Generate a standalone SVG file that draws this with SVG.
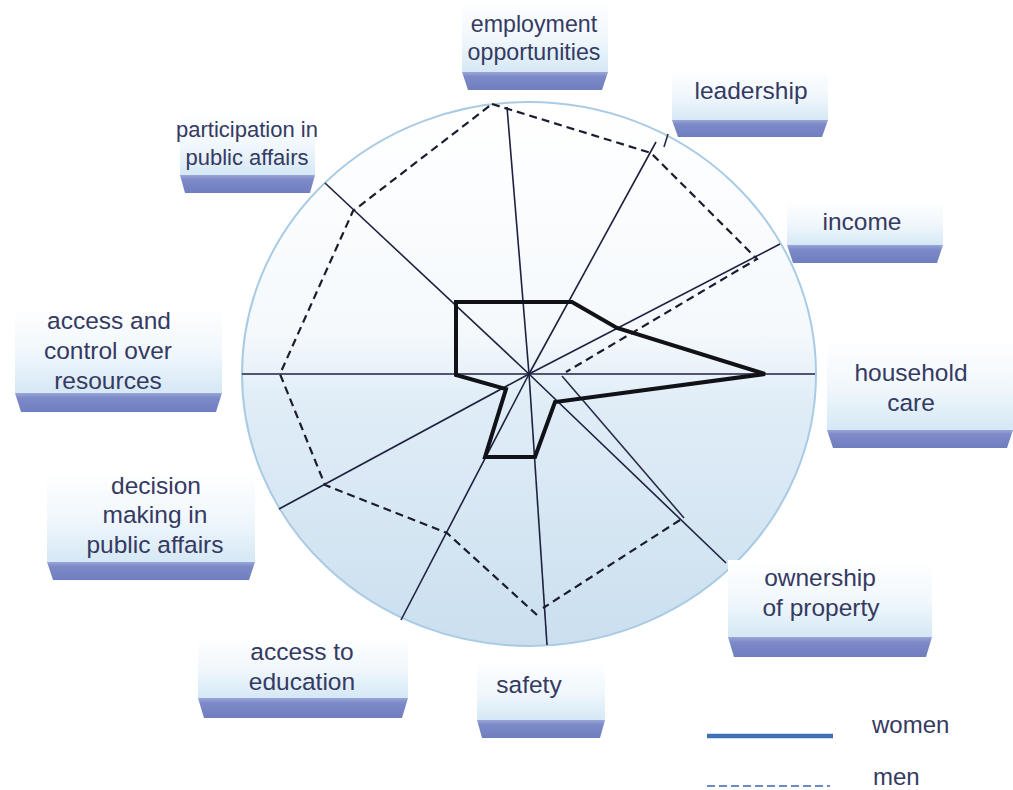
<svg xmlns="http://www.w3.org/2000/svg" width="1013" height="790" viewBox="0 0 1013 790">
<defs>
<linearGradient id="disc" x1="0" y1="0" x2="0" y2="1">
<stop offset="0" stop-color="#ffffff"/>
<stop offset="0.42" stop-color="#f5f9fc"/>
<stop offset="0.55" stop-color="#e0edf7"/>
<stop offset="1" stop-color="#cbdfef"/>
</linearGradient>
<linearGradient id="boxbg" x1="0" y1="0" x2="0" y2="1">
<stop offset="0" stop-color="#ffffff"/>
<stop offset="0.55" stop-color="#f0f7fc"/>
<stop offset="1" stop-color="#d5e8f5"/>
</linearGradient>
<linearGradient id="band" x1="0" y1="0" x2="0" y2="1">
<stop offset="0" stop-color="#9aa6d8"/>
<stop offset="0.25" stop-color="#7d8ac8"/>
<stop offset="1" stop-color="#6f7ebf"/>
</linearGradient>
</defs>
<style>
.lbl{font-family:"Liberation Sans",Arial,sans-serif;font-size:24.5px;fill:#353a62;text-anchor:middle}
.box{fill:url(#boxbg)}
.band{fill:url(#band)}
.spoke{stroke:#1f2140;stroke-width:1.6;fill:none}
.men{stroke:#1b1c30;stroke-width:2.2;stroke-dasharray:8 5;fill:none}
.menSolid{stroke:#2a2c48;stroke-width:1.6;fill:none}
.women{stroke:#111118;stroke-width:4;fill:none;stroke-linejoin:miter}
</style>
<rect width="1013" height="790" fill="#ffffff"/>
<g id="disc-bg">
<ellipse cx="529" cy="374" rx="287" ry="272" fill="url(#disc)" stroke="#aacbe4" stroke-width="2"/>
</g>
<g id="connectors">
<g id="spokes">
<line class="spoke" x1="529" y1="374" x2="507" y2="107"/>
<line class="spoke" x1="529" y1="374" x2="656" y2="142"/>
<line class="spoke" x1="529" y1="374" x2="780" y2="244"/>
<line class="spoke" x1="529" y1="374" x2="815" y2="374"/>
<line class="spoke" x1="529" y1="374" x2="726" y2="563"/>
<line class="spoke" x1="529" y1="374" x2="547" y2="645"/>
<line class="spoke" x1="529" y1="374" x2="401" y2="620"/>
<line class="spoke" x1="529" y1="374" x2="279" y2="509"/>
<line class="spoke" x1="529" y1="374" x2="242" y2="374"/>
<line class="spoke" x1="529" y1="374" x2="325" y2="183"/>
</g>
<g id="men-series">
<path class="men" d="M492,104 L651,153 L757,259 L566,372"/>
<path class="menSolid" d="M562,376 L684,518"/>
<path class="men" d="M680,520 L543,608"/>
<path class="men" d="M537,615 L447,533 L325,485 L280,374 L353,211 L492,104"/>
<path class="menSolid" d="M664,147 L668,134"/>
</g>
<g id="women-series">
<path class="women" d="M456,302 L572,302 L617,328 L765,374 L555,402 L535,457 L485,457 L506,389 L456,375 Z"/>
</g>
</g>
<g id="label-employment">
<rect class="box" x="462" y="0" width="146" height="72"/>
<polygon class="band" points="462,72 608,72 602,90 468,90"/>
<text class="lbl" x="534" y="32" style="font-size:23.2px">employment</text>
<text class="lbl" x="534" y="60" style="font-size:23.2px">opportunities</text>
</g>
<g id="label-leadership">
<rect class="box" x="672" y="68" width="156" height="52"/>
<polygon class="band" points="672,120 828,120 822,137 678,137"/>
<text class="lbl" x="751" y="99">leadership</text>
</g>
<g id="label-income">
<rect class="box" x="787" y="200" width="156" height="45"/>
<polygon class="band" points="787,245 943,245 937,263 793,263"/>
<text class="lbl" x="862" y="230">income</text>
</g>
<g id="label-household">
<rect class="box" x="827" y="338" width="186" height="92"/>
<polygon class="band" points="827,430 1013,430 1007,448 833,448"/>
<text class="lbl" x="911" y="381">household</text>
<text class="lbl" x="911" y="411">care</text>
</g>
<g id="label-ownership">
<rect class="box" x="728" y="560" width="204" height="77"/>
<polygon class="band" points="728,637 932,637 926,657 734,657"/>
<text class="lbl" x="820" y="586">ownership</text>
<text class="lbl" x="821" y="616">of property</text>
</g>
<g id="label-safety">
<rect class="box" x="477" y="660" width="128" height="60"/>
<polygon class="band" points="477,720 605,720 600,738 482,738"/>
<text class="lbl" x="529" y="693">safety</text>
</g>
<g id="label-education">
<rect class="box" x="198" y="636" width="210" height="62"/>
<polygon class="band" points="198,698 408,698 402,718 204,718"/>
<text class="lbl" x="302" y="660">access to</text>
<text class="lbl" x="302" y="690">education</text>
</g>
<g id="label-decision">
<rect class="box" x="47" y="470" width="208" height="92"/>
<polygon class="band" points="47,562 255,562 249,580 53,580"/>
<text class="lbl" x="156" y="494">decision</text>
<text class="lbl" x="155" y="523">making in</text>
<text class="lbl" x="155" y="553">public affairs</text>
</g>
<g id="label-resources">
<rect class="box" x="15" y="305" width="207" height="88"/>
<polygon class="band" points="15,393 222,393 216,412 21,412"/>
<text class="lbl" x="109" y="329">access and</text>
<text class="lbl" x="108" y="359">control over</text>
<text class="lbl" x="108" y="389">resources</text>
</g>
<g id="label-participation">
<rect class="box" x="180" y="112" width="135" height="63"/>
<polygon class="band" points="180,175 315,175 310,193 185,193"/>
<text class="lbl" x="247" y="137" style="font-size:22px">participation in</text>
<text class="lbl" x="247" y="165" style="font-size:22px">public affairs</text>
</g>
<g id="legend">
<line x1="707" y1="736" x2="833" y2="736" stroke="#3f72b4" stroke-width="4.5"/>
<line x1="707" y1="786" x2="830" y2="786" stroke="#6a8cc6" stroke-width="2" stroke-dasharray="8 4"/>
<text class="lbl" x="872" y="733" style="text-anchor:start;font-size:24px">women</text>
<text class="lbl" x="873" y="785" style="text-anchor:start;font-size:24px">men</text>
</g>
</svg>
